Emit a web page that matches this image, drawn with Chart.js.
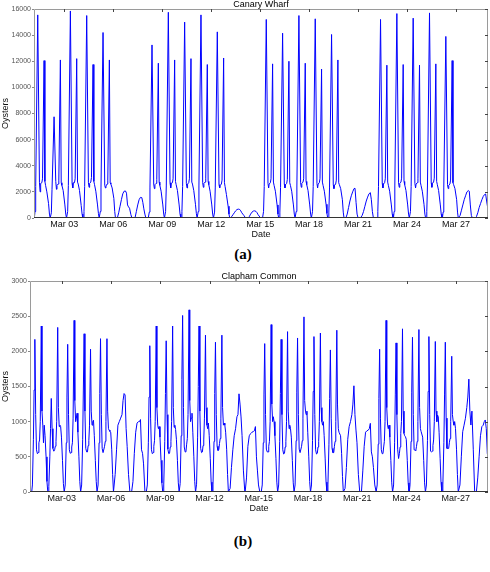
<!DOCTYPE html>
<html>
<head>
<meta charset="utf-8">
<script src="https://cdn.jsdelivr.net/npm/chart.js@4.4.1/dist/chart.umd.min.js"></script>
<style>
  html, body { margin: 0; padding: 0; background: #fff; }
  #page { position: relative; width: 490px; height: 572px; overflow: hidden; }
  canvas { position: absolute; left: 0; }
  #cwChart { top: 0; }
  #ccChart { top: 272px; }
  .panel { position: absolute; left: 0; width: 486px; text-align: center; line-height: 15px;
           font: bold 15px "Liberation Serif", "Times New Roman", serif; color: #000; }
</style>
</head>
<body>
<div id="page">
  <canvas id="cwChart" width="490" height="240"></canvas>
  <div class="panel" style="top:246px">(a)</div>
  <canvas id="ccChart" width="490" height="242"></canvas>
  <div class="panel" style="top:533px">(b)</div>
</div>
<script>
// Mon 1 March .. Sun 28 March, weekday / weekend
const dayKinds = ['wd','wd','wd','wd','wd','we','we','wd','wd','wd','wd','wd','we','we',
                  'wd','wd','wd','wd','wd','we','we','wd','wd','wd','wd','wd','we','we'];

// x ticks, hours since 1 March 00:00
const tickHours = [48, 120, 192, 264, 336, 408, 480, 552, 624];
const cwTickLabels = ['Mar 03','Mar 06','Mar 09','Mar 12','Mar 15','Mar 18','Mar 21','Mar 24','Mar 27'];
const ccTickLabels = ['Mar-03','Mar-06','Mar-09','Mar-12','Mar-15','Mar-18','Mar-21','Mar-24','Mar-27'];

// Canary Wharf - hour of day for each reading (a day runs 04:00 -> 04:00)
const cwWeekdayHours = [4, 5, 6, 9, 11.5, 12.5, 13.3, 15, 16, 18.3, 19.5, 20.5, 22.4, 24.9, 26.2, 27.3];
const cwWeekendHours = [4, 6, 8, 10, 12, 14, 16, 18, 19.5, 21, 22.5, 24, 26, 27.5];

const cwWeekdays = [
  [0, 500, 2400, 15550, 2700, 2000, 2650, 2700, 3000, 12050, 2800, 2500, 2000, 1100, 300, 0], // Mar 01
  [0, 400, 2200, 7750, 2800, 2200, 2500, 2600, 2900, 12100, 2700, 2500, 2100, 1000, 300, 0],
  [0, 500, 2500, 15850, 2650, 2300, 2700, 2700, 3000, 12200, 2750, 2600, 2100, 950, 300, 0],
  [0, 500, 2400, 15500, 2700, 2350, 2650, 2750, 3100, 11750, 2800, 2550, 2050, 1000, 350, 0],
  [0, 500, 2300, 14200, 2500, 2300, 2450, 2600, 2900, 12100, 2700, 2600, 2300, 1500, 500, 0],
  [0, 450, 2300, 13250, 2600, 2250, 2550, 2650, 2950, 11850, 2750, 2500, 2050, 1000, 300, 0], // Mar 08
  [0, 500, 2450, 15750, 2700, 2300, 2650, 2700, 3000, 12100, 2800, 2550, 2100, 1000, 300, 0],
  [0, 500, 2400, 15000, 2650, 2300, 2600, 2700, 3000, 12200, 2750, 2600, 2100, 1050, 350, 0],
  [0, 500, 2450, 15550, 2700, 2350, 2650, 2750, 3050, 11750, 2800, 2550, 2050, 1000, 300, 0],
  [0, 450, 2300, 14250, 2550, 2300, 2500, 2600, 2900, 12250, 2700, 2400, 1800, 900, 300, 0],
  [0, 500, 2400, 15200, 2650, 2300, 2600, 2700, 3000, 11800, 2750, 2500, 2050, 1000, 300, 0], // Mar 15
  [0, 450, 2350, 14150, 2600, 2300, 2550, 2650, 2950, 12000, 2700, 2500, 2050, 1000, 300, 0],
  [0, 500, 2450, 15500, 2700, 2350, 2650, 2750, 3000, 11850, 2800, 2550, 2100, 1000, 300, 0],
  [0, 500, 2400, 15250, 2650, 2300, 2600, 2700, 3000, 11400, 2750, 2500, 2050, 1050, 350, 0],
  [0, 450, 2300, 14050, 2550, 2250, 2500, 2600, 2900, 12100, 2700, 2550, 2250, 1400, 450, 0],
  [0, 500, 2400, 15200, 2650, 2300, 2600, 2700, 3000, 11700, 2750, 2500, 2050, 1000, 300, 0], // Mar 22
  [0, 500, 2450, 15650, 2700, 2350, 2650, 2750, 3050, 11750, 2800, 2550, 2100, 1000, 300, 0],
  [0, 500, 2400, 15300, 2650, 2300, 2600, 2700, 3000, 11700, 2750, 2500, 2050, 1050, 300, 0],
  [0, 500, 2450, 15700, 2700, 2350, 2650, 2750, 3050, 11800, 2800, 2550, 2100, 1000, 300, 0],
  [0, 450, 2300, 13900, 2550, 2250, 2500, 2600, 2900, 12050, 2700, 2550, 2250, 1400, 450, 0]
];
const cwWeekends = [
  [0, 0, 400, 900, 1400, 1850, 2050, 2070, 1900, 1000, 850, 750, 250, 0],   // Mar 06
  [0, 0, 0, 500, 1000, 1400, 1580, 1560, 1200, 700, 300, 0, 0, 0],
  [0, 100, 250, 400, 550, 650, 680, 650, 550, 400, 300, 200, 50, 0],       // Mar 13
  [0, 0, 100, 300, 450, 530, 550, 500, 400, 250, 150, 50, 0, 0],
  [0, 0, 300, 800, 1300, 1700, 2000, 2250, 2275, 1200, 300, 0, 0, 0],      // Mar 20
  [0, 200, 500, 900, 1300, 1600, 1850, 1940, 1400, 500, 0, 0, 0, 0],
  [0, 200, 600, 1000, 1400, 1700, 2000, 2100, 2050, 1000, 200, 0, 0, 0],   // Mar 27
  [0, 100, 400, 800, 1100, 1400, 1650, 1800, 1840, 1300, 800, 600, null, null]
];

// Clapham Common
const ccWeekdayHours = [4, 5, 6.5, 7.5, 8.6, 9.8, 11, 12.3, 13.5, 14.5, 15.5, 16.5, 18, 19, 20.2, 21.2, 22.3, 23.5, 25, 26.3, 27.5];
const ccWeekendHours = [4, 6, 8, 10, 12, 14, 16, 17.5, 19, 20.5, 22, 23.5, 25.5, 27.5];

const ccWeekdays = [
  [0, 100, 750, 1450, 2170, 1100, 600, 545, 560, 700, 740, 1000, 2360, 1150, 950, 700, 950, 800, 500, 150, 0],   // Mar 01
  [0, 80, 500, 900, 1330, 900, 620, 580, 600, 650, 720, 1000, 2340, 1200, 930, 950, 930, 780, 450, 120, 0],
  [0, 100, 700, 1350, 2100, 1100, 600, 550, 560, 640, 700, 1050, 2440, 1300, 1000, 1050, 1120, 850, 500, 150, 0],
  [0, 100, 750, 1450, 2250, 1150, 620, 570, 570, 660, 730, 950, 2030, 1150, 950, 1000, 1020, 800, 450, 150, 0],
  [0, 100, 700, 1400, 2180, 1100, 620, 560, 560, 650, 720, 1000, 2180, 1150, 900, 880, 860, 850, 600, 250, 0],
  [0, 100, 700, 1350, 2080, 1050, 600, 545, 560, 650, 730, 1000, 2360, 1200, 950, 900, 930, 780, 450, 130, 0],  // Mar 08
  [0, 100, 720, 1400, 2150, 1100, 610, 545, 550, 640, 720, 1000, 2360, 1200, 920, 950, 890, 750, 450, 130, 0],
  [0, 120, 800, 1600, 2510, 1200, 640, 570, 580, 680, 760, 1100, 2590, 1300, 1000, 1050, 1120, 850, 500, 150, 0],
  [0, 110, 780, 1500, 2360, 1150, 620, 560, 570, 660, 740, 1050, 2230, 1200, 950, 900, 980, 800, 480, 140, 0],
  [0, 100, 720, 1400, 2130, 1100, 650, 590, 600, 690, 760, 1050, 2230, 1200, 950, 980, 950, 850, 600, 250, 0],
  [0, 100, 700, 1380, 2110, 1100, 610, 570, 570, 650, 720, 1000, 2380, 1250, 1000, 1070, 1000, 800, 480, 140, 0], // Mar 15
  [0, 100, 720, 1400, 2170, 1100, 600, 540, 550, 640, 720, 1000, 2280, 1150, 900, 950, 900, 780, 450, 130, 0],
  [0, 100, 730, 1420, 2190, 1100, 610, 560, 560, 650, 730, 1050, 2490, 1300, 1150, 1100, 1150, 850, 500, 150, 0],
  [0, 100, 730, 1430, 2210, 1100, 600, 540, 550, 640, 720, 1000, 2260, 1200, 1000, 950, 1000, 800, 470, 140, 0],
  [0, 100, 680, 1330, 2020, 1050, 620, 560, 560, 650, 720, 1000, 2300, 1250, 900, 850, 850, 800, 550, 220, 0],
  [0, 100, 680, 1330, 2030, 1050, 600, 545, 550, 640, 720, 1000, 2440, 1200, 950, 900, 950, 780, 450, 130, 0],  // Mar 22
  [0, 100, 700, 1380, 2120, 1100, 600, 476, 550, 640, 833, 1000, 2320, 1150, 833, 800, 786, 750, 450, 130, 0],
  [0, 100, 720, 1420, 2200, 1100, 600, 595, 590, 650, 720, 1000, 2310, 1200, 900, 860, 860, 780, 450, 130, 0],
  [0, 100, 730, 1430, 2210, 1100, 580, 571, 580, 660, 740, 1000, 2140, 1150, 1000, 1095, 1070, 850, 480, 140, 0],
  [0, 100, 700, 1380, 2130, 1050, 620, 620, 620, 700, 760, 1000, 1930, 1100, 1000, 950, 1000, 900, 600, 250, 0]
];
const ccWeekends = [
  [0, 250, 600, 950, 1000, 1050, 1100, 1300, 1400, 1380, 900, 650, 250, 0],   // Mar 06
  [0, 0, 150, 550, 850, 980, 1000, 1000, 1030, 600, 550, 400, 0, 0],
  [0, 50, 350, 600, 800, 900, 1070, 1100, 1396, 1250, 1067, 800, 300, 0],     // Mar 13
  [0, 200, 650, 800, 830, 850, 860, 870, 930, 500, 300, 100, 0, 0],
  [0, 50, 350, 750, 929, 1000, 1100, 1250, 1510, 1100, 880, 700, 250, 0],     // Mar 20
  [0, 0, 300, 650, 850, 870, 880, 900, 976, 570, 500, 350, 100, 0],
  [0, 100, 500, 857, 950, 1048, 1200, 1350, 1605, 1150, 952, 1150, 600, 0],   // Mar 27
  [0, 0, 200, 500, 800, 929, 950, 1000, 1024, 900, 548, 520, null, null]
];

function buildPoints(wdHours, weHours, weekdays, weekends) {
  const pts = [];
  let wi = 0, ei = 0;
  dayKinds.forEach((kind, d) => {
    const hours = kind === 'wd' ? wdHours : weHours;
    const vals = kind === 'wd' ? weekdays[wi++] : weekends[ei++];
    hours.forEach((h, i) => pts.push({ x: d * 24 + h, y: vals[i] }));
  });
  return pts;
}

Chart.defaults.font.family = '"Liberation Sans", Arial, Helvetica, sans-serif';
Chart.defaults.color = '#000';

// grey box round the plot with small inward ticks on top and right
const frame = {
  id: 'frame',
  afterDatasetsDraw(chart) {
    const { ctx, chartArea: a, scales } = chart;
    ctx.save();
    ctx.lineWidth = 1;
    ctx.strokeStyle = '#9a9a9a';
    ctx.beginPath();
    ctx.moveTo(a.left + 0.5, a.bottom);
    ctx.lineTo(a.left + 0.5, a.top + 0.5);
    ctx.lineTo(a.right - 0.5, a.top + 0.5);
    ctx.lineTo(a.right - 0.5, a.bottom);
    ctx.stroke();
    ctx.strokeStyle = '#333';
    ctx.beginPath();
    ctx.moveTo(a.left, a.bottom - 0.5);
    ctx.lineTo(a.right, a.bottom - 0.5);
    ctx.stroke();
    ctx.strokeStyle = '#444';
    ctx.beginPath();
    scales.x.ticks.forEach(t => {
      const px = Math.round(scales.x.getPixelForValue(t.value)) + 0.5;
      ctx.moveTo(px, a.top);
      ctx.lineTo(px, a.top + 3);
    });
    scales.y.ticks.forEach(t => {
      const py = Math.round(scales.y.getPixelForValue(t.value)) + 0.5;
      ctx.moveTo(a.right, py);
      ctx.lineTo(a.right - 3, py);
    });
    ctx.stroke();
    ctx.restore();
  }
};

function makeChart(id, title, points, xMin, tickLabels, yMax, yStep, yWidth) {
  return new Chart(document.getElementById(id), {
    type: 'line',
    data: {
      datasets: [{
        data: points,
        borderColor: '#0000ff',
        borderWidth: 1,
        pointRadius: 0,
        tension: 0,
        fill: false
      }]
    },
    options: {
      responsive: false,
      animation: false,
      events: [],
      layout: { padding: { left: 0, right: 2, top: 0, bottom: 0 } },
      plugins: {
        legend: { display: false },
        tooltip: { enabled: false },
        title: {
          display: true,
          text: title,
          fullSize: false,
          color: '#000',
          font: { size: 9, weight: 'normal', lineHeight: 1 },
          padding: 0
        }
      },
      scales: {
        x: {
          type: 'linear',
          min: xMin,
          max: 671,
          afterBuildTicks: s => { s.ticks = tickHours.map(v => ({ value: v })); },
          afterFit: s => { s.height = 22; },
          grid: { display: false, drawTicks: false },
          border: { display: false },
          ticks: {
            autoSkip: false,
            maxRotation: 0,
            padding: 1,
            color: '#111',
            font: { size: 9 },
            callback: (v, i) => tickLabels[i]
          },
          title: { display: true, text: 'Date', color: '#111', font: { size: 9 }, padding: 0 }
        },
        y: {
          min: 0,
          max: yMax,
          afterFit: s => { s.width = yWidth; },
          grid: { drawOnChartArea: false, drawTicks: true, tickLength: 2, color: '#888' },
          border: { display: false },
          ticks: {
            stepSize: yStep,
            padding: 1,
            color: '#555',
            font: { size: 7 },
            callback: v => String(v)
          },
          title: { display: true, text: 'Oysters', color: '#111', font: { size: 9 }, padding: 0 }
        }
      }
    },
    plugins: [frame]
  });
}

makeChart('cwChart', 'Canary Wharf',
  buildPoints(cwWeekdayHours, cwWeekendHours, cwWeekdays, cwWeekends),
  3.5, cwTickLabels, 16000, 2000, 34);

makeChart('ccChart', 'Clapham Common',
  buildPoints(ccWeekdayHours, ccWeekendHours, ccWeekdays, ccWeekends),
  1.5, ccTickLabels, 3000, 500, 30);
</script>
</body>
</html>
